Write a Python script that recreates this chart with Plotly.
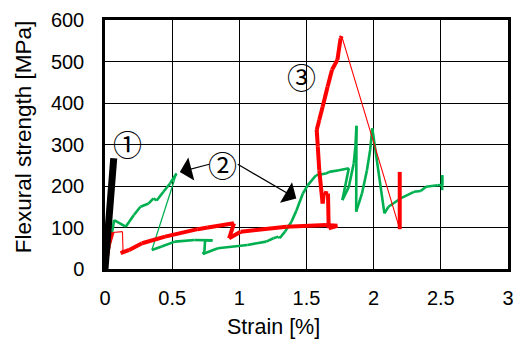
import plotly.graph_objects as go

# ---------------- data ----------------
black_x = [0.0, 0.065]
black_y = [0, 267]

red_x = [0.0, 0.03, 0.056, 0.13, 0.134, 0.117, 0.18, 0.276, 0.447, 0.69, 0.765, 0.96,
         0.924, 1.01, 1.35, 1.645, 1.73, 1.665, 1.66, 1.63, 1.62, 1.595, 1.584, 1.576,
         1.595, 1.62, 1.657, 1.69, 1.73, 1.754, 1.762, 2.194, 2.194]
red_y = [0, 60, 88, 90, 46, 38, 46, 62, 78, 96, 100, 110,
         74, 90, 102, 106, 104, 98, 182, 184, 158, 238, 295, 335,
         359, 391, 439, 480, 504, 556, 561, 96, 234]
# indices i where the segment from point i to i+1 is drawn thin
red_thin = [2, 3, 4, 30]

green_x = [0.0, 0.056, 0.068, 0.154, 0.215, 0.264, 0.325, 0.361, 0.385, 0.435, 0.484, 0.532,
           0.349, 0.422, 0.52, 0.667, 0.80, 0.745, 0.74, 0.728, 0.84, 1.06, 1.2, 1.254, 1.29,
           1.30, 1.34, 1.388, 1.424, 1.473, 1.51, 1.571, 1.644, 1.669, 1.742, 1.815, 1.767,
           1.815, 1.852, 1.864, 1.872, 1.87, 1.913, 1.95, 1.974, 1.99, 2.08, 2.11, 2.2, 2.3,
           2.35, 2.39, 2.475, 2.51, 2.51, 2.51]
green_y = [0, 94, 118, 102, 130, 150, 158, 170, 165, 186, 206, 230,
           46, 54, 66, 70, 69, 69, 42, 36, 50, 58, 66, 74, 78,
           74, 90, 114, 140, 182, 202, 226, 230, 234, 238, 243, 166,
           198, 255, 295, 345, 138, 182, 238, 287, 339, 134, 150, 170, 186,
           188, 198, 202, 202, 226, 190]
green_thin = [11]

x_ticks = [0, 0.5, 1, 1.5, 2, 2.5, 3]
x_tick_labels = ["0", "0.5", "1", "1.5", "2", "2.5", "3"]
y_ticks = [0, 100, 200, 300, 400, 500, 600]
y_tick_labels = ["0", "100", "200", "300", "400", "500", "600"]

labels = ["①", "②", "③"]
label_x = [0.166, 0.875, 1.461]
label_y = [304, 252, 464]

arrow_tip_x = [0.557, 1.424]
arrow_tip_y = [234, 170]
arrow_tail_dx = [31, -60]
arrow_tail_dy = [-8, -35]

RED = "#FF0000"
GREEN = "#00B050"


def split_segments(xs, ys, thin_idx):
    """Return (thick_x, thick_y, thin_x, thin_y) with None gaps."""
    tx, ty, nx, ny = [], [], [], []
    for i in range(len(xs) - 1):
        if i in thin_idx:
            nx += [xs[i], xs[i + 1], None]
            ny += [ys[i], ys[i + 1], None]
        else:
            tx += [xs[i], xs[i + 1], None]
            ty += [ys[i], ys[i + 1], None]
    return tx, ty, nx, ny


fig = go.Figure()

gtx, gty, gnx, gny = split_segments(green_x, green_y, green_thin)
fig.add_trace(go.Scatter(x=gnx, y=gny, mode="lines", line=dict(color=GREEN, width=1.3),
                         hoverinfo="skip", showlegend=False))
fig.add_trace(go.Scatter(x=gtx, y=gty, mode="lines", line=dict(color=GREEN, width=2.6),
                         hoverinfo="skip", showlegend=False))

rtx, rty, rnx, rny = split_segments(red_x, red_y, red_thin)
fig.add_trace(go.Scatter(x=rnx, y=rny, mode="lines", line=dict(color=RED, width=1.1),
                         hoverinfo="skip", showlegend=False))
fig.add_trace(go.Scatter(x=rtx, y=rty, mode="lines", line=dict(color=RED, width=4),
                         hoverinfo="skip", showlegend=False))

fig.add_trace(go.Scatter(x=black_x, y=black_y, mode="lines", line=dict(color="black", width=7),
                         hoverinfo="skip", showlegend=False))

annotations = []
for t, lx, ly in zip(labels, label_x, label_y):
    annotations.append(dict(x=lx, y=ly, xref="x", yref="y", text=t, showarrow=False,
                            xanchor="center", yanchor="middle",
                            font=dict(family="Noto Sans CJK JP", size=29, color="black")))
for tx_, ty_, dx, dy in zip(arrow_tip_x, arrow_tip_y, arrow_tail_dx, arrow_tail_dy):
    annotations.append(dict(x=tx_, y=ty_, xref="x", yref="y", text="", showarrow=True,
                            ax=dx, ay=dy, arrowhead=1, arrowsize=3.3, arrowwidth=1.2,
                            arrowcolor="black"))

L, R, T, B = 105, 7, 20, 71
W, H = 521, 340
pw, ph = W - L - R, H - T - B
annotations.append(dict(x=(276 - L) / pw, y=(T + ph - 327) / ph, xref="paper", yref="paper",
                        xanchor="center", yanchor="middle",
                        text="Strain [%]", showarrow=False,
                        font=dict(family="Liberation Sans", size=21.5, color="black")))
annotations.append(dict(x=(22 - L) / pw, y=(T + ph - 137) / ph, xref="paper", yref="paper",
                        xanchor="center", yanchor="middle",
                        text="Flexural strength [MPa]", showarrow=False, textangle=-90,
                        font=dict(family="Liberation Sans", size=22.5, color="black")))

fig.update_layout(
    width=W, height=H,
    margin=dict(l=L, r=R, t=T, b=B),
    paper_bgcolor="white", plot_bgcolor="white",
    showlegend=False,
    annotations=annotations,
    font=dict(family="Liberation Sans", size=20, color="black"),
)
fig.update_xaxes(range=[0, 3], tickvals=x_ticks, ticktext=x_tick_labels,
                 showgrid=True, gridcolor="black", gridwidth=1,
                 showline=True, linecolor="black", linewidth=2.5, mirror=True,
                 zeroline=False, ticks="outside", ticklen=9, tickcolor="rgba(0,0,0,0)",
                 tickfont=dict(family="Liberation Sans", size=20))
fig.update_yaxes(range=[0, 600], tickvals=y_ticks, ticktext=y_tick_labels,
                 showgrid=True, gridcolor="black", gridwidth=1,
                 showline=True, linecolor="black", linewidth=2.5, mirror=True,
                 zeroline=False, ticks="outside", ticklen=14, tickcolor="rgba(0,0,0,0)",
                 tickfont=dict(family="Liberation Sans", size=20))

fig.write_html("out.html")
